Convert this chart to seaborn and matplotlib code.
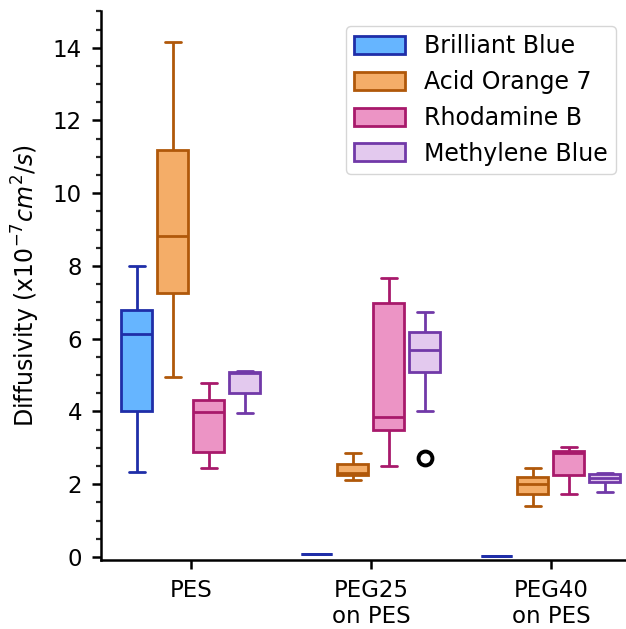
"""Dye diffusivity through PES and PEG-coated PES membranes, as grouped boxplots."""

import matplotlib

matplotlib.use("Agg")
import matplotlib.pyplot as plt
import pandas as pd
import seaborn as sns
from matplotlib.ticker import MultipleLocator

MEMBRANES = ["PES", "PEG25\non PES", "PEG40\non PES"]
DYES = ["Brilliant Blue", "Acid Orange 7", "Rhodamine B", "Methylene Blue"]

# raw diffusivity samples (x1e-7 cm^2/s), read back from the box statistics
BRILLIANT_BLUE = {
    "PES": [2.34, 4.00, 6.13, 6.80, 8.00],
    "PEG25\non PES": [0.07, 0.07, 0.07, 0.07, 0.07],
    "PEG40\non PES": [0.03, 0.03, 0.03, 0.03, 0.03],
}
ACID_ORANGE_7 = {
    "PES": [4.94, 7.25, 8.83, 11.19, 14.15],
    "PEG25\non PES": [2.12, 2.26, 2.32, 2.55, 2.87],
    "PEG40\non PES": [1.39, 1.73, 2.00, 2.19, 2.45],
}
RHODAMINE_B = {
    "PES": [2.44, 2.88, 3.98, 4.32, 4.79],
    "PEG25\non PES": [2.51, 3.50, 3.84, 6.99, 7.66],
    "PEG40\non PES": [1.74, 2.26, 2.86, 2.92, 3.03],
}
METHYLENE_BLUE = {
    "PES": [3.97, 4.50, 5.06, 5.08, 5.10],
    "PEG25\non PES": [2.72, 4.00, 5.08, 5.40, 5.68, 5.90, 6.19, 6.50, 6.73],
    "PEG40\non PES": [1.78, 2.05, 2.16, 2.28, 2.31],
}

FILL_COLORS = ["#66b5ff", "#f4ad68", "#ec94c5", "#e3c9ee"]
EDGE_COLORS = ["#1f2ea8", "#b0580a", "#a8196b", "#7139a8"]
LINE_WIDTH = 2.0


def build_frame():
    rows = []
    for dye, samples in zip(DYES, [BRILLIANT_BLUE, ACID_ORANGE_7, RHODAMINE_B, METHYLENE_BLUE]):
        for membrane in MEMBRANES:
            for value in samples[membrane]:
                rows.append({"membrane": membrane, "dye": dye, "diffusivity": value})
    return pd.DataFrame(rows)


def main():
    sns.set_theme(style="ticks")
    plt.rcParams["font.family"] = ["DejaVu Sans"]

    df = build_frame()

    fig = plt.figure(figsize=(6.26, 6.29), dpi=100)
    ax = fig.add_axes([0.161, 0.110, 0.839, 0.872])

    sns.boxplot(
        data=df,
        x="membrane",
        y="diffusivity",
        hue="dye",
        order=MEMBRANES,
        hue_order=DYES,
        palette=FILL_COLORS,
        width=0.8,
        gap=0.14,
        linewidth=LINE_WIDTH,
        saturation=1,
        flierprops={
            "marker": "o",
            "markerfacecolor": "none",
            "markeredgecolor": "black",
            "markersize": 10,
            "markeredgewidth": 2.8,
        },
        ax=ax,
    )

    # each dye gets its own darker outline for box, whiskers, caps and median
    for container, edge in zip(ax.containers, EDGE_COLORS):
        for box in container.boxes:
            box.set_edgecolor(edge)
        for line in list(container.medians) + list(container.whiskers) + list(container.caps):
            line.set_color(edge)

    ax.set_xlim(-0.5, 2.417)
    ax.set_ylim(-0.08, 15.0)
    ax.yaxis.set_major_locator(MultipleLocator(2))
    ax.yaxis.set_minor_locator(MultipleLocator(0.5))
    ax.tick_params(
        axis="both", labelsize=16.5, width=1.8, length=6.5, pad=7, color="black", labelcolor="black"
    )
    ax.tick_params(axis="y", which="minor", width=1.6, length=3.6)
    ax.set_xlabel("")
    ax.set_ylabel(r"Diffusivity (x$10^{-7} cm^2/s$)", fontsize=17, color="black", labelpad=8)
    for side in ["left", "bottom"]:
        ax.spines[side].set_linewidth(1.8)
        ax.spines[side].set_color("black")
    sns.despine(ax=ax)

    leg = ax.legend(
        loc="upper right",
        bbox_to_anchor=(1.003, 0.995),
        fontsize=17,
        frameon=True,
        handlelength=2.15,
        handleheight=0.8,
        labelspacing=0.5,
        borderpad=0.35,
    )
    for text in leg.get_texts():
        text.set_color("black")
    for handle, edge in zip(leg.legend_handles, EDGE_COLORS):
        handle.set_edgecolor(edge)
        handle.set_linewidth(LINE_WIDTH)

    fig.savefig("out.png", dpi=100)
    plt.close(fig)


if __name__ == "__main__":
    main()
